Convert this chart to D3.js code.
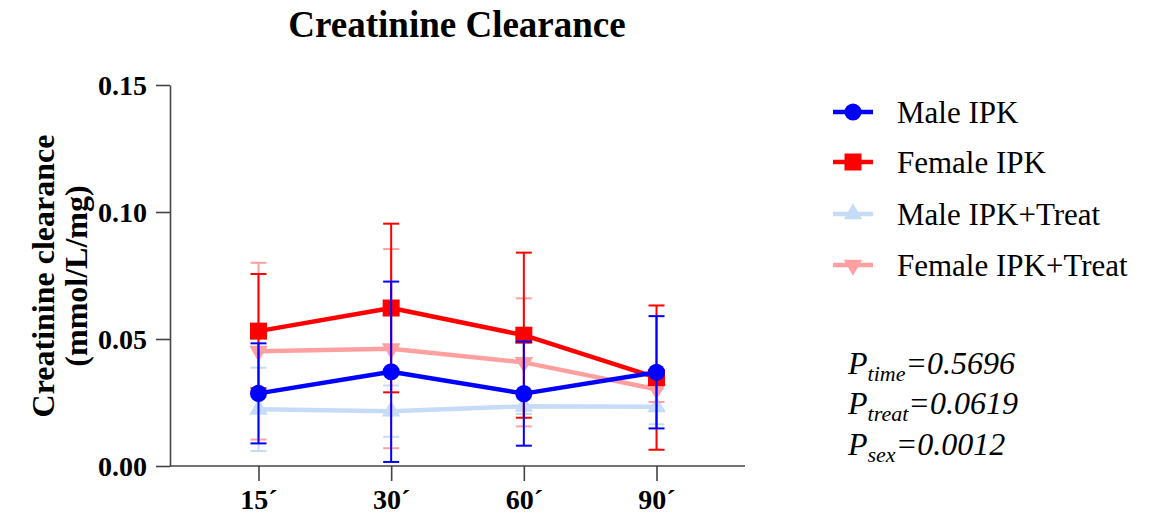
<!DOCTYPE html>
<html>
<head>
<meta charset="utf-8">
<script src="https://cdn.jsdelivr.net/npm/d3@7"></script>
<style>
  html, body { margin: 0; padding: 0; background: #fff; }
  svg { display: block; }
  text { font-family: "Liberation Serif", "Times New Roman", serif; fill: #000; }
</style>
</head>
<body>
<svg id="chart" width="1160" height="516"></svg>
<script>
// Time points (minutes after start of perfusion)
const timePoints = ["15´", "30´", "60´", "90´"];
const yTicks = [0, 0.05, 0.10, 0.15];

// Mean creatinine clearance (mmol/L/mg) and SEM per group
const maleIPK = [0.0286, 0.0371, 0.0285, 0.0369];
const maleIPKSem = [0.0197, 0.0355, 0.0205, 0.0221];
const femaleIPK = [0.0531, 0.0622, 0.0515, 0.0348];
const femaleIPKSem = [0.0225, 0.0332, 0.0325, 0.0284];
const maleTreat = [0.0223, 0.0216, 0.0235, 0.0233];
const maleTreatSem = [0.0164, 0.0101, 0.0030, 0.0069];
const femaleTreat = [0.0452, 0.0462, 0.0408, 0.0302];
const femaleTreatSem = [0.0348, 0.0392, 0.0252, 0.0050];

const seriesNames = ["Male IPK", "Female IPK", "Male IPK+Treat", "Female IPK+Treat"];
const pLabels = [["time", "=0.5696"], ["treat", "=0.0619"], ["sex", "=0.0012"]];

const series = [
  { name: seriesNames[0], mean: maleIPK, sem: maleIPKSem, color: "#0000ff", shape: "circle" },
  { name: seriesNames[1], mean: femaleIPK, sem: femaleIPKSem, color: "#ff0000", shape: "square" },
  { name: seriesNames[2], mean: maleTreat, sem: maleTreatSem, color: "#c6dcf6", shape: "up" },
  { name: seriesNames[3], mean: femaleTreat, sem: femaleTreatSem, color: "#ffa0a0", shape: "down" }
];
// back-to-front drawing order
const drawOrder = [2, 3, 1, 0];

const svg = d3.select("#chart");
const serif = '"Liberation Serif", "Times New Roman", serif';

const x = d3.scalePoint().domain(timePoints).range([170, 745]).padding(0.667);
const y = d3.scaleLinear().domain([0, 0.15]).range([466, 85]);

function symbolPath(shape) {
  if (shape === "circle") return d3.symbol(d3.symbolCircle, 230)();
  if (shape === "square") return d3.symbol(d3.symbolSquare, 289)();
  return d3.symbol(d3.symbolTriangle, 150)();
}
function symbolTransform(shape, cx, cy) {
  if (shape === "down") return `translate(${cx},${cy}) rotate(180)`;
  return `translate(${cx},${cy})`;
}

// Title
svg.append("text")
  .attr("x", 457).attr("y", 37)
  .attr("text-anchor", "middle")
  .attr("font-size", 37).attr("font-weight", "bold")
  .text("Creatinine Clearance");

// Axes
const axisColor = "#444";
const yAxis = svg.append("g")
  .attr("transform", "translate(170,0)")
  .call(d3.axisLeft(y).tickValues(yTicks).tickFormat(d3.format(".2f")).tickSize(14).tickSizeOuter(0).tickPadding(9));
const xAxis = svg.append("g")
  .attr("transform", "translate(0,466)")
  .call(d3.axisBottom(x).tickSize(15).tickSizeOuter(0).tickPadding(11));
[yAxis, xAxis].forEach(g => {
  g.select(".domain").attr("stroke", axisColor).attr("stroke-width", 1.6);
  g.selectAll(".tick line").attr("stroke", axisColor).attr("stroke-width", 1.6);
  g.selectAll(".tick text")
    .attr("font-family", serif).attr("font-weight", "bold")
    .attr("font-size", 28).attr("fill", "#000");
});
// x axis spans the full plot width starting at the y axis
xAxis.select(".domain").attr("d", "M170,0H745");
yAxis.selectAll(".tick text").attr("dy", "0.34em");
xAxis.selectAll(".tick text").attr("dy", "0.62em");

// Y axis title (two lines)
const yTitle = svg.append("text")
  .attr("transform", "translate(0,276) rotate(-90)")
  .attr("text-anchor", "middle")
  .attr("font-size", 32).attr("font-weight", "bold");
yTitle.append("tspan").attr("x", 0).attr("y", 54).text("Creatinine clearance");
yTitle.append("tspan").attr("x", 0).attr("y", 87).text("(mmol/L/mg)");

// Series: error bars, connecting line, markers
const line = d3.line().x((d, i) => x(timePoints[i])).y(d => y(d));
const capHalf = 8;
drawOrder.forEach(si => {
  const s = series[si];
  const g = svg.append("g");
  s.mean.forEach((m, i) => {
    const cx = x(timePoints[i]);
    const hi = y(m + s.sem[i]), lo = y(m - s.sem[i]);
    g.append("line").attr("x1", cx).attr("x2", cx).attr("y1", hi).attr("y2", lo)
      .attr("stroke", s.color).attr("stroke-width", 2);
    [hi, lo].forEach(yy => g.append("line")
      .attr("x1", cx - capHalf).attr("x2", cx + capHalf).attr("y1", yy).attr("y2", yy)
      .attr("stroke", s.color).attr("stroke-width", 2));
  });
  g.append("path").datum(s.mean).attr("d", line)
    .attr("fill", "none").attr("stroke", s.color).attr("stroke-width", 4.5)
    .attr("stroke-linejoin", "round");
  s.mean.forEach((m, i) => {
    g.append("path").attr("d", symbolPath(s.shape))
      .attr("transform", symbolTransform(s.shape, x(timePoints[i]), y(m)))
      .attr("fill", s.color);
  });
});

// Legend
const legendY = [112, 162, 214, 265];
series.forEach((s, i) => {
  const g = svg.append("g").attr("transform", `translate(0,${legendY[i]})`);
  g.append("line").attr("x1", 833).attr("x2", 873).attr("y1", 0).attr("y2", 0)
    .attr("stroke", s.color).attr("stroke-width", 4.5);
  g.append("path").attr("d", symbolPath(s.shape))
    .attr("transform", symbolTransform(s.shape, 853, 0)).attr("fill", s.color);
  g.append("text").attr("x", 897).attr("y", 0).attr("dy", "0.34em")
    .attr("font-size", 31).text(s.name);
});

// Two-way ANOVA p-values
const pY = [374, 414, 455];
pLabels.forEach((p, i) => {
  const t = svg.append("text").attr("x", 848).attr("y", pY[i])
    .attr("font-size", 32).attr("font-style", "italic");
  t.append("tspan").text("P");
  t.append("tspan").attr("font-size", 22).attr("dy", 7).text(p[0]);
  t.append("tspan").attr("dy", -7).text(p[1]);
});
</script>
</body>
</html>
